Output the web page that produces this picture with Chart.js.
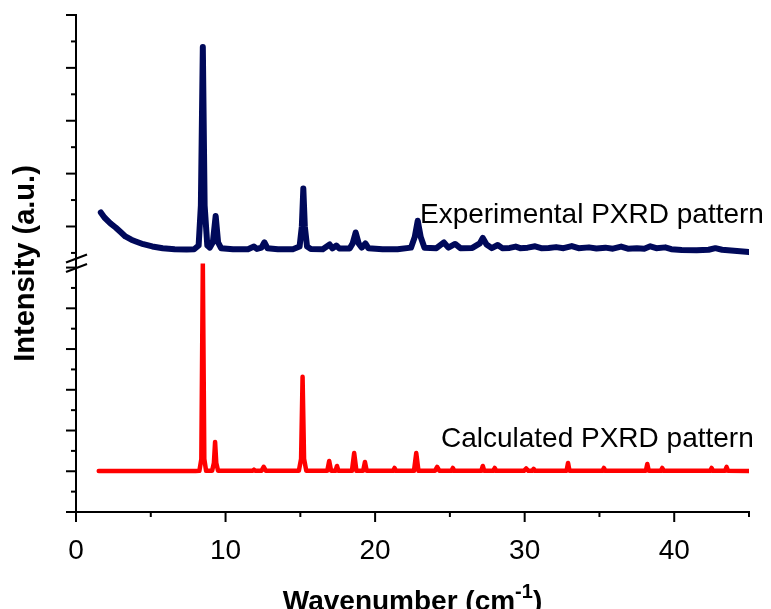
<!DOCTYPE html>
<html>
<head>
<meta charset="utf-8">
<script src="https://cdn.jsdelivr.net/npm/chart.js@4"></script>
<style>
  body { margin: 0; background: #fff; }
  #pxrd { display: block; }
</style>
</head>
<body>
<canvas id="pxrd" width="771" height="609"></canvas>
<script>
// experimental pattern (top panel)
const expX = [1.66, 1.9, 2.3, 2.65, 3.0, 3.3, 3.7, 4.0, 4.5, 5.1, 5.8, 6.6, 7.4, 7.9,
    8.2, 8.35, 8.48, 8.6, 8.78, 8.95, 9.15, 9.34, 9.5, 9.7, 10.5, 11.5, 11.9, 12.1, 12.4, 12.6, 12.8,
    13.5, 14.5, 14.95, 15.1, 15.2, 15.3, 15.45, 15.7, 16.5, 16.96, 17.15, 17.4, 17.6, 18.3, 18.5, 18.7,
    18.9, 19.1, 19.35, 19.55, 20.5, 21.5, 22.4, 22.65, 22.85, 23.05, 23.3, 24.1, 24.6, 24.9, 25.35,
    25.7, 26.5, 27.0, 27.2, 27.45, 27.8, 28.2, 28.5, 29.0, 29.4, 29.7, 30.2, 30.7, 31.1, 31.6, 32.1,
    32.6, 33.15, 33.6, 34.3, 34.8, 35.4, 35.9, 36.45, 36.9, 37.5, 38.0, 38.4, 38.8, 39.4, 39.8, 40.5,
    41.5, 42.3, 42.75, 43.2, 44.0, 45.0];
const expY = [1264, 1170, 1060, 981, 890, 811, 750, 717, 665, 623, 590, 570, 566, 570,
    640, 1400, 4396, 1400, 640, 600, 700, 1200, 700, 590, 570, 570, 623, 575, 600, 700, 590,
    570, 570, 620, 1000, 1717, 1000, 620, 575, 570, 660, 585, 640, 585, 585, 680, 887,
    680, 600, 680, 590, 570, 570, 600, 800, 1110, 800, 600, 590, 698, 600, 670,
    590, 595, 680, 785, 660, 590, 650, 590, 595, 620, 590, 600, 625, 590, 595, 610,
    590, 630, 590, 605, 585, 600, 580, 620, 580, 590, 580, 625, 590, 605, 570, 555,
    550, 560, 590, 560, 540, 515];

// calculated pattern (bottom panel); the 8.48 peak runs off the top of the panel
const calcX = [1.52, 8.0, 8.25, 8.38, 8.48, 8.58, 8.7, 9.1, 9.22, 9.3, 9.38, 9.5, 11.8, 11.9, 12.0,
    12.4, 12.55, 12.7, 14.9, 15.05, 15.15, 15.25, 15.4, 16.8, 16.93, 17.06, 17.35, 17.45, 17.55,
    18.45, 18.6, 18.75, 19.2, 19.32, 19.44, 21.2, 21.3, 21.4, 22.6, 22.75, 22.9, 24.0, 24.15, 24.3,
    25.1, 25.2, 25.3, 27.1, 27.2, 27.3, 27.9, 28.0, 28.1, 29.95, 30.1, 30.25, 30.5, 30.6, 30.7,
    32.8, 32.9, 33.0, 35.2, 35.3, 35.4, 38.1, 38.2, 38.3, 39.1, 39.2, 39.3, 42.4, 42.5, 42.6,
    43.4, 43.5, 43.6, 45.0];
const calcY = [1007, 1007, 1010, 1300, 6100, 1300, 1010, 1010, 1200, 1720, 1200, 1010, 1010, 1040, 1010,
    1010, 1110, 1010, 1010, 1300, 3317, 1300, 1010, 1010, 1253, 1010, 1010, 1130, 1010,
    1010, 1450, 1010, 1010, 1228, 1010, 1010, 1081, 1010, 1010, 1450, 1010, 1010, 1106, 1010,
    1010, 1081, 1010, 1010, 1130, 1010, 1010, 1081, 1010, 1010, 1070, 1010, 1010, 1060, 1010,
    1010, 1204, 1010, 1010, 1081, 1010, 1010, 1180, 1010, 1010, 1081, 1010, 1010, 1081, 1010,
    1010, 1106, 1010, 1007];

const xTicks = [0, 10, 20, 30, 40];
const seriesNames = ['Experimental PXRD pattern', 'Calculated PXRD pattern'];

const FONT = "'Liberation Sans', Arial, sans-serif";

function toPoints(xs, ys) {
    return xs.map((x, i) => ({ x: x, y: ys[i] }));
}

function line(ctx, x1, y1, x2, y2) {
    ctx.beginPath();
    ctx.moveTo(x1, y1);
    ctx.lineTo(x2, y2);
    ctx.stroke();
}

// tick marks, axis break, titles and in-plot labels
const decorations = {
    id: 'decorations',
    afterDraw(chart) {
        const ctx = chart.ctx;
        const { x, yTop, yBot } = chart.scales;
        ctx.save();
        ctx.strokeStyle = '#000';
        ctx.lineWidth = 2;

        for (let v = 0; v <= x.max; v += 5) {
            const px = x.getPixelForValue(v);
            line(ctx, px, x.top, px, x.top + (v % 10 === 0 ? 10 : 5));
        }
        [yTop, yBot].forEach(s => {
            for (let v = Math.ceil(s.min / 500) * 500; v <= s.max; v += 500) {
                const py = s.getPixelForValue(v);
                line(ctx, s.right - (v % 1000 === 0 ? 10 : 5), py, s.right, py);
            }
        });

        // axis break
        const bx = yTop.right, by = yTop.bottom;
        line(ctx, bx - 10, by - 1, bx + 11, by - 9);
        line(ctx, bx - 10, by + 8.5, bx + 11, by + 0.5);

        ctx.fillStyle = '#000';
        // in-plot labels
        ctx.font = '28px ' + FONT;
        ctx.textAlign = 'left';
        ctx.textBaseline = 'alphabetic';
        ctx.fillText(seriesNames[0], x.getPixelForValue(23.0), yTop.getPixelForValue(1075));
        ctx.fillText(seriesNames[1], x.getPixelForValue(24.4), yBot.getPixelForValue(1600));

        // y title
        ctx.save();
        ctx.translate(34, (yTop.top + yBot.bottom) / 2);
        ctx.rotate(-Math.PI / 2);
        ctx.font = 'bold 29px ' + FONT;
        ctx.textAlign = 'center';
        ctx.fillText('Intensity (a.u.)', 0, 0);
        ctx.restore();

        // x title with superscript
        const main = 'Wavenumber (cm', sup = '-1', close = ')';
        ctx.font = 'bold 28px ' + FONT;
        const w1 = ctx.measureText(main).width, w3 = ctx.measureText(close).width;
        ctx.font = 'bold 20px ' + FONT;
        const w2 = ctx.measureText(sup).width;
        const cx = (x.left + x.right) / 2;
        let tx = cx - (w1 + w2 + w3) / 2;
        const base = 610;
        ctx.textAlign = 'left';
        ctx.font = 'bold 28px ' + FONT;
        ctx.fillText(main, tx, base);
        tx += w1;
        ctx.font = 'bold 20px ' + FONT;
        ctx.fillText(sup, tx, base - 12);
        tx += w2;
        ctx.font = 'bold 28px ' + FONT;
        ctx.fillText(close, tx, base);
        ctx.restore();
    }
};

new Chart(document.getElementById('pxrd'), {
    type: 'line',
    data: {
        datasets: [
            {
                label: seriesNames[0],
                data: toPoints(expX, expY),
                yAxisID: 'yTop',
                borderColor: '#00095a',
                borderWidth: 6,
                borderJoinStyle: 'round',
                borderCapStyle: 'round',
                pointRadius: 0,
                tension: 0
            },
            {
                label: seriesNames[1],
                data: toPoints(calcX, calcY),
                yAxisID: 'yBot',
                borderColor: '#ff0000',
                borderWidth: 4.5,
                borderJoinStyle: 'round',
                borderCapStyle: 'round',
                pointRadius: 0,
                tension: 0
            }
        ]
    },
    options: {
        responsive: false,
        devicePixelRatio: 1,
        animation: false,
        layout: { padding: { left: 0, top: 15, right: 16, bottom: 0 } },
        plugins: {
            legend: { display: false },
            tooltip: { enabled: false }
        },
        scales: {
            x: {
                type: 'linear',
                min: 0,
                max: 45,
                grid: { display: false, drawTicks: false },
                border: { display: true, color: '#000', width: 2 },
                ticks: {
                    stepSize: 5,
                    autoSkip: false,
                    maxRotation: 0,
                    padding: 22,
                    color: '#000',
                    font: { family: FONT, size: 28 },
                    callback: v => xTicks.includes(v) ? String(v) : ''
                },
                afterFit: s => { s.height = 97; }
            },
            yBot: {
                type: 'linear',
                position: 'left',
                stack: 'y',
                stackWeight: 1,
                min: 0,
                max: 6100,
                grid: { display: false, drawTicks: false },
                border: { display: true, color: '#000', width: 2 },
                ticks: { display: false, stepSize: 500 },
                afterFit: s => { s.width = 76; }
            },
            yTop: {
                type: 'linear',
                position: 'left',
                stack: 'y',
                stackWeight: 1,
                min: 300,
                max: 5000,
                grid: { display: false, drawTicks: false },
                border: { display: true, color: '#000', width: 2 },
                ticks: { display: false, stepSize: 500 },
                afterFit: s => { s.width = 76; }
            }
        }
    },
    plugins: [decorations]
});
</script>
</body>
</html>
